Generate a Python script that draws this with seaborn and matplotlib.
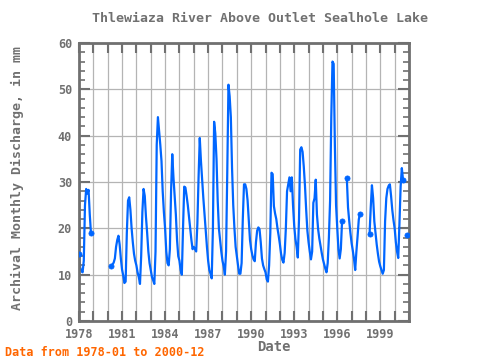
import numpy as np
import pandas as pd
import matplotlib
matplotlib.use("Agg")
import matplotlib.pyplot as plt
import seaborn as sns

nan = np.nan
# Monthly discharge (mm), Jan..Dec of each year
v1978 = [14.5, 11.5, 10.8, 10.5, 13.0, 25.0, 28.5, 27.5, 28.3, 23.0, 19.0, nan]
v1979 = [nan] * 12
v1980 = [nan, nan, nan, 11.8, 12.2, 12.6, 13.5, 16.0, 17.5, 18.4, 16.5, 13.5]
v1981 = [11.1, 9.8, 8.2, 8.5, 19.0, 26.0, 26.7, 24.0, 20.0, 17.0, 14.5, 13.0]
v1982 = [12.0, 10.5, 9.5, 8.0, 14.0, 23.5, 28.5, 27.0, 22.5, 19.0, 15.0, 12.5]
v1983 = [11.0, 9.5, 8.8, 8.0, 15.0, 38.0, 44.0, 41.0, 38.0, 34.5, 28.0, 23.5]
v1984 = [20.0, 15.0, 12.5, 12.0, 15.5, 28.0, 36.0, 31.0, 27.0, 23.0, 17.5, 14.0]
v1985 = [13.0, 11.0, 10.0, 20.0, 29.0, 28.8, 27.0, 25.0, 22.5, 20.0, 17.5, 15.5]
v1986 = [16.0, 15.5, 15.0, 21.0, 31.0, 39.5, 34.5, 30.5, 26.5, 23.0, 19.5, 16.0]
v1987 = [13.0, 11.0, 10.2, 9.2, 20.0, 43.0, 40.5, 35.0, 26.0, 20.0, 17.5, 15.0]
v1988 = [13.0, 11.8, 10.0, 15.0, 32.0, 51.0, 48.5, 44.0, 33.0, 25.0, 20.0, 16.0]
v1989 = [14.0, 12.0, 10.2, 10.2, 12.5, 22.0, 29.5, 29.5, 28.5, 26.0, 21.7, 17.5]
v1990 = [15.5, 14.2, 13.3, 12.9, 17.0, 19.5, 20.2, 19.8, 17.0, 13.5, 12.0, 11.2]
v1991 = [10.5, 9.0, 8.5, 12.0, 19.0, 32.0, 31.7, 24.8, 23.2, 22.0, 20.0, 18.4]
v1992 = [16.6, 14.5, 13.2, 12.6, 14.7, 20.0, 28.0, 29.5, 31.0, 28.0, 31.0, 25.0]
v1993 = [20.5, 17.7, 16.0, 13.7, 22.0, 37.0, 37.5, 36.5, 33.3, 29.2, 24.0, 19.5]
v1994 = [17.0, 15.0, 13.3, 15.0, 25.5, 26.5, 30.5, 23.0, 19.8, 17.8, 16.2, 14.7]
v1995 = [13.3, 12.3, 11.3, 10.5, 12.5, 18.0, 26.0, 44.0, 56.0, 55.5, 38.0, 25.0]
v1996 = [20.0, 15.5, 13.5, 15.5, 21.5, nan, nan, nan, 30.8, 24.5, 21.6, 19.0]
v1997 = [16.8, 15.2, 13.4, 11.0, 15.0, 18.3, 21.9, 23.2, nan, nan, nan, nan]
v1998 = [nan, nan, nan, 18.7, 24.5, 29.3, 26.5, 21.5, 19.0, 16.5, 14.5, 12.8]
v1999 = [11.8, 11.0, 10.2, 11.0, 21.5, 26.5, 28.5, 29.2, 29.5, 27.0, 24.0, 21.8]
v2000 = [20.0, 17.0, 15.0, 13.6, 21.0, 29.0, 33.0, 30.5, nan, nan, 18.6, nan]

values = (v1978 + v1979 + v1980 + v1981 + v1982 + v1983 + v1984 + v1985 + v1986
          + v1987 + v1988 + v1989 + v1990 + v1991 + v1992 + v1993 + v1994 + v1995
          + v1996 + v1997 + v1998 + v1999 + v2000)

dates = pd.date_range("1978-01-01", periods=len(values), freq="MS")
df = pd.DataFrame({"date": dates.year + (dates.month - 1) / 12.0, "value": values})
isnan = df["value"].isna()
df["seg"] = isnan.cumsum()
valid = df[~isnan]
ends = df[~isnan & (df["value"].shift(1).isna() | df["value"].shift(-1).isna())]

blue = "#0066ff"
gray = "#707070"
fam = "DejaVu Sans Mono"

fig = plt.figure(figsize=(4.8, 3.6), dpi=100)
ax = fig.add_axes([79 / 480, 39 / 360, 330 / 480, 278 / 360])

sns.lineplot(data=valid, x="date", y="value", units="seg", estimator=None,
             color=blue, lw=1.6, ax=ax, legend=False)
sns.scatterplot(data=ends, x="date", y="value", color=blue, s=14,
                edgecolor=blue, linewidth=0.5, ax=ax, legend=False, zorder=3)

ax.set_xlim(1978, 2001)
ax.set_ylim(0, 60)
yrs = list(range(1978, 2002))
ax.set_xticks(yrs)
ax.set_xticklabels([str(y) if (y - 1978) % 3 == 0 and y < 2001 else "" for y in yrs],
                   fontfamily=fam, fontsize=8.5, fontweight="bold", color=gray)
ax.set_yticks(range(0, 61, 10))
ax.set_yticklabels([str(v) for v in range(0, 61, 10)],
                   fontfamily=fam, fontsize=8.5, fontweight="bold", color=gray)
ax.set_yticks(range(0, 61, 2), minor=True)
ax.grid(True, which="major", color="#b4b4b4", lw=0.9)
ax.set_axisbelow(True)
ax.tick_params(axis="x", which="major", direction="in", top=True, bottom=True,
               length=7, width=1.5, color=gray, pad=5)
ax.tick_params(axis="y", which="major", direction="in", left=True, right=True,
               length=8, width=1.5, color=gray, pad=5)
ax.tick_params(axis="y", which="minor", direction="in", left=True, right=True,
               length=4, width=1.2, color=gray)
for s in ax.spines.values():
    s.set_color(gray)
    s.set_linewidth(2)
ax.set_xlabel("")
ax.set_ylabel("")

fig.text(260 / 480, 342 / 360, "Thlewiaza River Above Outlet Sealhole Lake",
         ha="center", va="center", fontfamily=fam, fontsize=9.5, fontweight="bold", color=gray)
fig.text(274 / 480, 13 / 360, "Date", ha="center", va="center",
         fontfamily=fam, fontsize=10, fontweight="bold", color=gray)
fig.text(17 / 480, 182 / 360, "Archival Monthly Discharge, in mm", ha="center", va="center",
         rotation=90, fontfamily=fam, fontsize=9.5, fontweight="bold", color=gray)
fig.text(5 / 480, 8 / 360, "Data from 1978-01 to 2000-12", ha="left", va="center",
         fontfamily=fam, fontsize=8.5, fontweight="bold", color="#ff6600")

fig.savefig("out.png", dpi=100)
